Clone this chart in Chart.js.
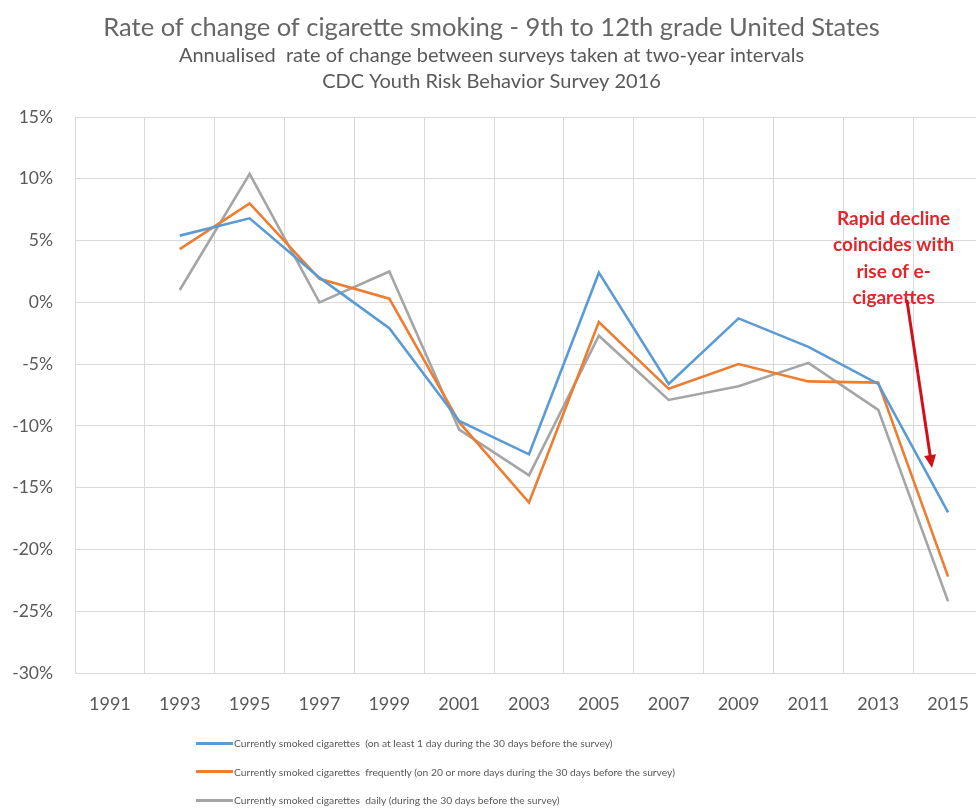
<!DOCTYPE html>
<head>
    <title>Rate of change of cigarette smoking</title>
    <script src="https://cdn.jsdelivr.net/npm/chart.js"></script>
    <style>
        html, body { margin: 0; padding: 0; background: #fff; overflow: hidden; }
        #wrap { position: relative; width: 990px; height: 809px; }
        #legenda { position: absolute; left: 196px; top: 729px; font-family: Lato, sans-serif; font-size: 10.3px; color: #595959; }
        .item { height: 28.5px; display: flex; align-items: center; white-space: pre; }
        .kreska { width: 37px; height: 3px; margin-right: 1px; }
    </style>
</head>

<body>
<div id="wrap">
    <canvas id="wykres" width="990" height="809"></canvas>
    <div id="legenda"></div>
</div>

<script>
// dane
const years = ['1991','1993','1995','1997','1999','2001','2003','2005','2007','2009','2011','2013','2015'];
const atLeastOneDay = [null, 5.4, 6.8, 2.0, -2.1, -9.6, -12.3, 2.4, -6.6, -1.3, -3.6, -6.6, -17.0];
const frequently = [null, 4.3, 8.0, 1.9, 0.3, -9.7, -16.2, -1.6, -7.0, -5.0, -6.4, -6.5, -22.2];
const daily = [null, 1.0, 10.4, 0.0, 2.5, -10.3, -14.0, -2.7, -7.9, -6.8, -4.9, -8.7, -24.2];
const seriesNames = [
    'Currently smoked cigarettes  (on at least 1 day during the 30 days before the survey)',
    'Currently smoked cigarettes  frequently (on 20 or more days during the 30 days before the survey)',
    'Currently smoked cigarettes  daily (during the 30 days before the survey)'
];
const seriesColors = ['#5B9BD5', '#ED7D31', '#A5A5A5'];
const noteLines = ['Rapid decline', 'coincides with', 'rise of e-', 'cigarettes'];

const grey = '#595959';

// strzałka i napis w prawym górnym rogu
const notatka = {
    id: 'notatka',
    afterDatasetsDraw(chart) {
        const ctx = chart.ctx;
        const xs = chart.scales.x, ys = chart.scales.y;
        const x11 = xs.getPixelForValue(11), x12 = xs.getPixelForValue(12);
        const px = f => x11 + (x12 - x11) * f;
        ctx.save();
        ctx.fillStyle = '#E3262B';
        ctx.font = 'bold 19px Lato';
        ctx.textAlign = 'center';
        ctx.textBaseline = 'middle';
        const tops = [6.75, 4.65, 2.45, 0.35];
        noteLines.forEach((t, i) => ctx.fillText(t, px(0.22), ys.getPixelForValue(tops[i])));

        const x1 = px(0.41), y1 = ys.getPixelForValue(0.2);
        const x2 = px(0.77), y2 = ys.getPixelForValue(-13.4);
        const ang = Math.atan2(y2 - y1, x2 - x1);
        ctx.strokeStyle = '#D0101A';
        ctx.fillStyle = '#D0101A';
        ctx.lineWidth = 3;
        ctx.beginPath();
        ctx.moveTo(x1, y1);
        ctx.lineTo(x2 - 8 * Math.cos(ang), y2 - 8 * Math.sin(ang));
        ctx.stroke();
        ctx.beginPath();
        ctx.moveTo(x2, y2);
        ctx.lineTo(x2 - 13 * Math.cos(ang) + 6 * Math.sin(ang), y2 - 13 * Math.sin(ang) - 6 * Math.cos(ang));
        ctx.lineTo(x2 - 13 * Math.cos(ang) - 6 * Math.sin(ang), y2 - 13 * Math.sin(ang) + 6 * Math.cos(ang));
        ctx.closePath();
        ctx.fill();
        ctx.restore();
    }
};

const allSeries = [atLeastOneDay, frequently, daily];

const chart = new Chart(document.getElementById('wykres'), {
    type: 'line',
    data: {
        labels: years,
        datasets: allSeries.map((d, i) => ({
            label: seriesNames[i],
            data: d,
            borderColor: seriesColors[i],
            backgroundColor: seriesColors[i],
            borderWidth: 2.6,
            pointRadius: 0,
            tension: 0,
            fill: false
        }))
    },
    options: {
        responsive: false,
        animation: false,
        layout: { padding: { left: 0, right: 7, top: 0, bottom: 86 } },
        plugins: {
            legend: { display: false },
            tooltip: { enabled: false },
            title: {
                display: true,
                text: 'Rate of change of cigarette smoking - 9th to 12th grade United States',
                color: '#666666',
                font: { family: 'Lato', size: 25.5, weight: 'normal', lineHeight: '30px' },
                padding: { top: 13, bottom: 0 }
            },
            subtitle: {
                display: true,
                text: ['Annualised  rate of change between surveys taken at two-year intervals', 'CDC Youth Risk Behavior Survey 2016'],
                color: grey,
                font: { family: 'Lato', size: 20, lineHeight: '26px' },
                padding: { top: 0, bottom: 22 }
            }
        },
        scales: {
            x: {
                offset: true,
                grid: { color: '#D9D9D9', offset: true, drawTicks: false, tickLength: 0 },
                border: { color: '#D9D9D9' },
                ticks: { color: grey, font: { family: 'Lato', size: 18 }, padding: 20, maxRotation: 0 },
                afterFit(s) { s.height = 50; }
            },
            y: {
                min: -30,
                max: 15,
                grid: { color: '#D9D9D9', drawTicks: false, tickLength: 0 },
                border: { color: '#D9D9D9' },
                ticks: {
                    stepSize: 5,
                    color: grey,
                    font: { family: 'Lato', size: 17.5 },
                    padding: 22,
                    callback: v => v + '%'
                },
                afterFit(s) { s.width = 75; }
            }
        }
    },
    plugins: [notatka]
});

// legenda w html, pod wykresem
const legenda = document.getElementById('legenda');
chart.data.datasets.forEach(ds => {
    const row = document.createElement('div');
    row.className = 'item';
    const line = document.createElement('span');
    line.className = 'kreska';
    line.style.background = ds.borderColor;
    row.appendChild(line);
    row.appendChild(document.createTextNode(ds.label));
    legenda.appendChild(row);
});
</script>
</body>
